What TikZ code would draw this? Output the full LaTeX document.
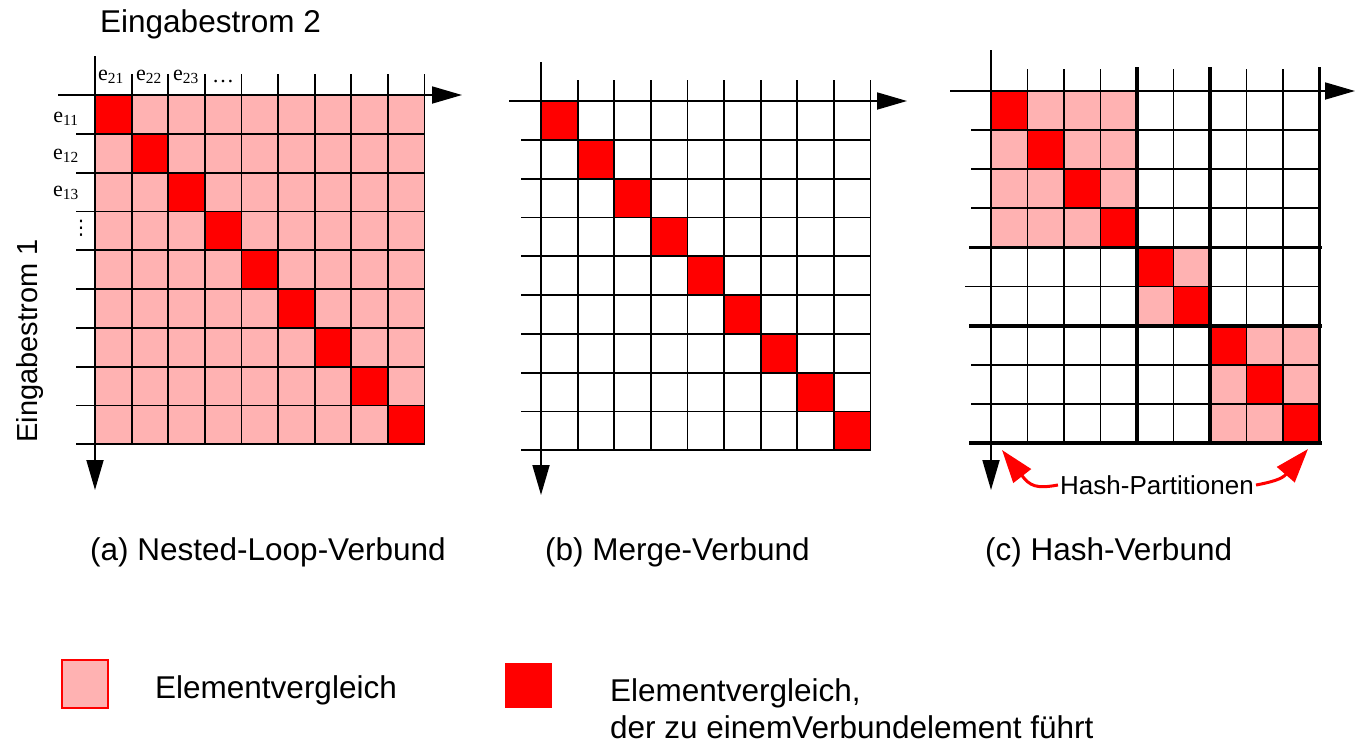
\documentclass[tikz,border=0pt]{standalone}
\usepackage{fontspec}
\setmainfont{Liberation Sans}
\newfontfamily\serifm{Liberation Serif}
\newfontfamily\djvsans{DejaVu Sans}
\usetikzlibrary{arrows.meta}
\definecolor{lpink}{RGB}{255,178,178}
\definecolor{hred}{RGB}{255,0,0}
\begin{document}
\begin{tikzpicture}[x=1pt,y=-1pt,
  gridline/.style={line width=1.8pt,black,line cap=rect},
  heavyline/.style={line width=3.8pt,black,line cap=rect},
  axisarrow/.style={line width=1.8pt,black,-{Triangle[length=30pt,width=17pt]}},
  hasharrow/.style={line width=3pt,hred},
  bigtext/.style={font=\fontsize{31.5}{36}\selectfont,inner sep=0pt},
  smalllabel/.style={font=\serifm\fontsize{22}{23}\selectfont,inner sep=0pt},
  pinkcell/.style={fill=lpink},
  redcell/.style={fill=hred}]
\useasboundingbox (0,0) rectangle (1359,745);

% ---------- (a) Nested-Loop ----------
\fill[pinkcell] (95,95) rectangle (424.4,444.2);
\foreach \i in {0,...,8}
  \fill[redcell] (95+\i*36.6,95+\i*38.8) rectangle ++(36.6,38.8);
\foreach \i in {1,...,9}
  \draw[gridline] (95+\i*36.6,75) -- (95+\i*36.6,444.2);
\foreach \j in {1,...,9}
  \draw[gridline] (77,95+\j*38.8) -- (424.4,95+\j*38.8);
\coordinate (axs) at (58,95);
\coordinate (axe) at (462,95);
\coordinate (ays) at (95,56);
\coordinate (aye) at (95,490);
\draw[axisarrow] (axs) -- (axe);
\draw[axisarrow] (ays) -- (aye);

\node[smalllabel] (e21) at (111,77) {e\textsubscript{21}};
\node[smalllabel] (e22) at (149,77) {e\textsubscript{22}};
\node[smalllabel] (e23) at (186,77) {e\textsubscript{23}};
\node[smalllabel] (edots) at (223,82) {\dots};
\node[smalllabel] (e11) at (66,119) {e\textsubscript{11}};
\node[smalllabel] (e12) at (66,156) {e\textsubscript{12}};
\node[smalllabel] (e13) at (66,193) {e\textsubscript{13}};
\node[font=\djvsans\fontsize{20}{20}\selectfont,inner sep=0pt] (evdots) at (81,228) {⋮};

\node[bigtext,anchor=base west] (strom2) at (100,32) {Eingabestrom 2};
\node[font=\fontsize{29}{33}\selectfont,inner sep=0pt,rotate=90] (strom1) at (30,341) {Eingabestrom 1};

% ---------- (b) Merge ----------
\foreach \i in {0,...,8}
  \fill[redcell] (541+\i*36.6,101+\i*38.8) rectangle ++(36.6,38.8);
\foreach \i in {1,...,9}
  \draw[gridline] (541+\i*36.6,81) -- (541+\i*36.6,450.2);
\foreach \j in {1,...,9}
  \draw[gridline] (522,101+\j*38.8) -- (870.4,101+\j*38.8);
\coordinate (bxs) at (509,101);
\coordinate (bxe) at (907,101);
\coordinate (bys) at (541,62);
\coordinate (bye) at (541,495);
\draw[axisarrow] (bxs) -- (bxe);
\draw[axisarrow] (bys) -- (bye);

% ---------- (c) Hash ----------
\fill[pinkcell] (991,91) rectangle (991+4*36.5,91+4*39.1);
\fill[pinkcell] (991+4*36.5,91+4*39.1) rectangle (991+6*36.5,91+6*39.1);
\fill[pinkcell] (991+6*36.5,91+6*39.1) rectangle (991+9*36.5,91+9*39.1);
\foreach \i in {0,...,8}
  \fill[redcell] (991+\i*36.5,91+\i*39.1) rectangle ++(36.5,39.1);
\foreach \i in {1,2,3,5,7,8}
  \draw[gridline] (991+\i*36.5,70) -- (991+\i*36.5,442.9);
\foreach \j in {1,2,3,7,8}
  \draw[gridline] (972,91+\j*39.1) -- (1319.5,91+\j*39.1);
\draw[gridline] (966,91+5*39.1) -- (1319.5,91+5*39.1);
\foreach \i in {4,6,9}
  \draw[heavyline] (991+\i*36.5,69) -- (991+\i*36.5,442.9);
\foreach \j in {4,6,9}
  \draw[heavyline] (971,91+\j*39.1) -- (1320,91+\j*39.1);
\coordinate (cxs) at (950,91);
\coordinate (cxe) at (1355,91);
\coordinate (cys) at (991,50);
\coordinate (cye) at (991,490);
\draw[axisarrow] (cxs) -- (cxe);
\draw[axisarrow] (cys) -- (cye);

\node[font=\fontsize{26}{30}\selectfont,inner sep=2pt] (hp) at (1157,485) {Hash-Partitionen};
\coordinate (hpl) at (1002,450);
\coordinate (hpr) at (1308,449);
\draw[hasharrow,-{Triangle[length=33pt,width=22pt]}] (hp.west) .. controls (1036,489) and (1030,486) .. (hpl);
\draw[hasharrow,-{Triangle[length=34pt,width=23pt]}] (hp.east) .. controls (1272,482) and (1282,479) .. (hpr);

% ---------- captions ----------
\node[bigtext,anchor=base west] (capa) at (90,560) {(a) Nested-Loop-Verbund};
\node[bigtext,anchor=base west] (capb) at (545,560) {(b) Merge-Verbund};
\node[bigtext,anchor=base west] (capc) at (985,560) {(c) Hash-Verbund};

% ---------- legend ----------
\draw[fill=lpink,draw=hred,line width=1.2pt] (62,660) rectangle (108,708);
\node[bigtext,anchor=base west] (leg1) at (155,698) {Elementvergleich};
\fill[hred] (505,663) rectangle (552,708);
\node[bigtext,anchor=base west] (leg2a) at (610,701) {Elementvergleich,};
\node[bigtext,anchor=base west] (leg2b) at (610,738) {der zu einemVerbundelement führt};
\end{tikzpicture}
\end{document}
